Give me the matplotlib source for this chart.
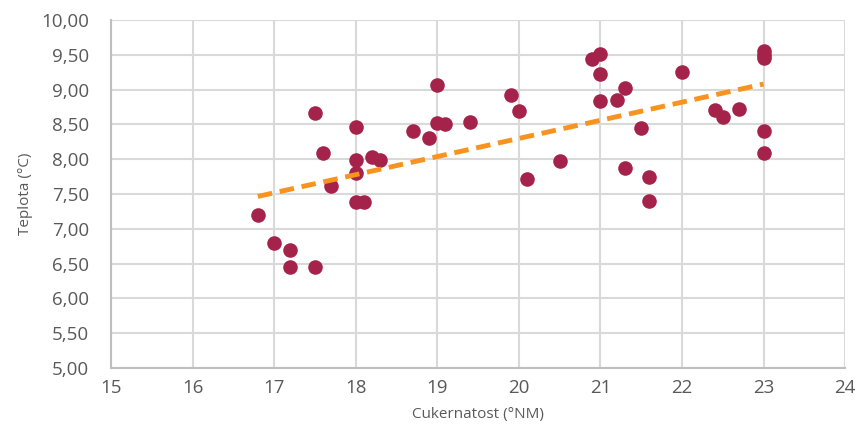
import numpy as np
import matplotlib
matplotlib.use("Agg")
import matplotlib.pyplot as plt
from matplotlib.ticker import FuncFormatter, MultipleLocator

sugar = [16.8, 17.0, 17.2, 17.2, 17.5, 17.5, 17.6, 17.7, 18.0, 18.0, 18.0, 18.0,
         18.1, 18.2, 18.3, 18.7, 18.9, 19.0, 19.0, 19.1, 19.4, 19.9, 20.0, 20.1,
         20.5, 20.9, 21.0, 21.0, 21.0, 21.2, 21.3, 21.3, 21.5, 21.6, 21.6, 22.0,
         22.4, 22.5, 22.7, 23.0, 23.0, 23.0, 23.0, 23.0]
temp = [7.20, 6.80, 6.70, 6.45, 6.45, 8.67, 8.09, 7.61, 8.46, 7.99, 7.80, 7.38,
        7.38, 8.03, 7.99, 8.41, 8.31, 9.07, 8.52, 8.50, 8.54, 8.93, 8.70, 7.72,
        7.97, 9.44, 9.51, 9.22, 8.83, 8.85, 9.03, 7.87, 8.45, 7.74, 7.40, 9.25,
        8.71, 8.60, 8.72, 9.55, 9.50, 9.46, 8.41, 8.09]

x_label = "Cukernatost (°NM)"
y_label = "Teplota (°C)"

plt.rcParams['font.family'] = ['Open Sans', 'DejaVu Sans']
fig = plt.figure(figsize=(8.58, 4.41), dpi=100)
ax = fig.add_axes([0.1294, 0.1655, 0.8556, 0.789])

ax.scatter(sugar, temp, s=110, color="#A5234B", zorder=3, linewidths=0)

coef = np.polyfit(sugar, temp, 1)
xs = np.array([min(sugar), max(sugar)])
ax.plot(xs, np.polyval(coef, xs), color="#F7931E", lw=3.5, ls=(0, (3, 1.6)), zorder=4)

ax.set_xlim(15, 24)
ax.set_ylim(5, 10)
ax.xaxis.set_major_locator(MultipleLocator(1))
ax.yaxis.set_major_locator(MultipleLocator(0.5))
ax.yaxis.set_major_formatter(FuncFormatter(lambda v, p: f"{v:.2f}".replace(".", ",")))
ax.grid(True, color="#D9D9D9", lw=1.5, zorder=0)
ax.set_axisbelow(True)
for s in ["top", "right"]:
    ax.spines[s].set_visible(False)
for s in ["left", "bottom"]:
    ax.spines[s].set_color("#BFBFBF")
    ax.spines[s].set_linewidth(1.5)
ax.tick_params(length=0, labelsize=13.5, colors="#595959")
ax.tick_params(axis="y", pad=16)
ax.tick_params(axis="x", pad=8)
ax.set_xlabel(x_label, fontsize=11, color="#595959", labelpad=7)
ax.set_ylabel(y_label, fontsize=11, color="#595959", labelpad=6)

fig.savefig("out.png", dpi=100)
